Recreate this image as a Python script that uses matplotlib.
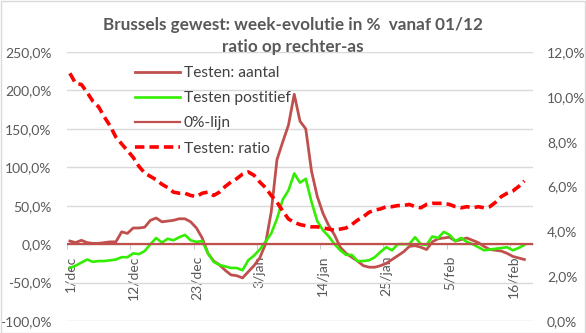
import matplotlib
matplotlib.use("Agg")
import matplotlib.pyplot as plt
from matplotlib.ticker import FuncFormatter, FixedLocator
from matplotlib.patches import Rectangle

plt.rcParams['font.family'] = ['Lato', 'DejaVu Sans']

# ---- data (day index 0 = 1 december) ----
tick_labels = ["1/dec", "12/dec", "23/dec", "3/jan", "14/jan", "25/jan", "5/feb", "16/feb"]
n_categories = 81

testen_aantal = [4, 2, 5, 2, 1, 1, 2, 3, 3, 16, 14, 21, 21, 22, 31, 34, 29, 30, 31, 33,
                 33, 29, 21, 8, -12, -22, -27, -34, -40, -41, -44, -36, -28, -18, 0, 42, 110, 133, 155, 195,
                 160, 150, 95, 62, 40, 24, 12, -4, -12, -17, -22, -28, -30, -30, -28, -25, -20, -15, -10, -3,
                 -2, -4, -7, 3, 7, 8, 9, 4, 6, 8, 5, 2, -3, -7, -8, -9, -12, -16, -18, -20]

testen_positief = [-31, -28, -24, -20, -23, -22, -22, -21, -20, -17, -17, -12, -13, -9, 0, 8, 2, 7, 5, 9,
                   12, 5, 3, 4, -12, -23, -27, -29, -31, -31, -34, -21, -15, -7, 3, 14, 33, 58, 70, 92,
                   80, 85, 55, 30, 18, 10, 0, -8, -14, -14, -22, -22, -21, -17, -10, -4, -8, 0, 0, 0,
                   9, 0, -1, 10, 8, 16, 12, 4, 8, 3, 0, -4, -8, -7, -6, -5, -4, -8, -5, -1]

nul_lijn = 0.0

testen_ratio = [11.05, 10.6, 10.55, 10.2, 9.8, 9.55, 9.1, 8.7, 8.2, 7.9, 7.6, 7.3, 6.9, 6.6, 6.45, 6.3, 6.1, 5.95, 5.75, 5.7,
                5.7, 5.6, 5.55, 5.7, 5.75, 5.6, 5.75, 6.0, 6.2, 6.35, 6.55, 6.65, 6.5, 6.2, 5.95, 5.6, 5.3, 4.9, 4.55, 4.4,
                4.3, 4.25, 4.2, 4.2, 4.15, 4.1, 4.05, 4.1, 4.15, 4.3, 4.5, 4.65, 4.85, 4.95, 5.0, 5.1, 5.1, 5.15, 5.15, 5.2,
                5.1, 5.05, 5.2, 5.25, 5.25, 5.25, 5.2, 5.1, 5.05, 5.1, 5.05, 5.1, 5.05, 5.1, 5.3, 5.55, 5.7, 5.8, 6.0, 6.25]

left_ticks = [-100, -50, 0, 50, 100, 150, 200, 250]
right_ticks = [0, 2, 4, 6, 8, 10, 12]

# ---- figure ----
W, H = 586, 333
fig = plt.figure(figsize=(W / 100, H / 100), dpi=100)
fig.patches.append(Rectangle((0.5 / W, 0.5 / H), 1 - 1.5 / W, 1 - 1.5 / H, transform=fig.transFigure,
                             fill=False, edgecolor='#D9D9D9', linewidth=1.0))

L, R, T, B = 67, 533, 52, 321
ax = fig.add_axes([L / W, (H - B) / H, (R - L) / W, (B - T) / H])
ax2 = ax.twinx()

days = list(range(len(testen_aantal)))

brown = '#C0504D'
green = '#33EE00'
red = '#FF0000'
txt = '#595959'

l1, = ax.plot(days, testen_aantal, color=brown, lw=2.0, label='Testen: aantal', zorder=3)
l2, = ax.plot(days, testen_positief, color=green, lw=1.9, label='Testen postitief', zorder=3)
l3 = ax.axhline(nul_lijn, color=brown, lw=1.6, label='0%-lijn', zorder=4)
l4, = ax2.plot(days, testen_ratio, color=red, lw=2.6, dashes=(2.6, 1.4), label='Testen: ratio', zorder=5)

ax.set_xlim(-0.5, n_categories - 0.5)
ax.set_ylim(left_ticks[0], left_ticks[-1])
ax2.set_ylim(right_ticks[0], right_ticks[-1])

pct = FuncFormatter(lambda v, p: (f"{v:.1f}%").replace('.', ','))
ax.yaxis.set_major_locator(FixedLocator(left_ticks))
ax2.yaxis.set_major_locator(FixedLocator(right_ticks))
ax.yaxis.set_major_formatter(pct)
ax2.yaxis.set_major_formatter(pct)
ax.tick_params(axis='y', length=0, pad=11, labelsize=10, labelcolor=txt)
ax2.tick_params(axis='y', length=0, pad=10, labelsize=10, labelcolor=txt)
ax.grid(axis='y', color='#D9D9D9', lw=1.0, zorder=0)

# x axis at 0
label_pos = [11 * k for k in range(len(tick_labels))]
ax.set_xticks(label_pos)
ax.set_xticklabels(tick_labels)
ax.set_xticks([p - 0.5 for p in label_pos], minor=True)
ax.tick_params(axis='x', which='major', length=0, pad=8, labelsize=10, labelcolor=txt, labelrotation=90)
ax.tick_params(axis='x', which='minor', length=3.5, color='#BFBFBF', direction='out')

for s in ['top', 'right', 'left']:
    ax.spines[s].set_visible(False)
    ax2.spines[s].set_visible(False)
ax2.spines['bottom'].set_visible(False)
ax.spines['bottom'].set_position(('data', 0))
ax.spines['bottom'].set_color('#BFBFBF')

ax.set_zorder(1)
ax2.set_zorder(2)
ax.patch.set_visible(False)
ax2.patch.set_visible(False)

# title
fig.text(0.5, 1 - 25 / H, "Brussels gewest: week-evolutie in %  vanaf 01/12", ha='center', va='center',
         fontsize=12.3, fontweight='bold', color=txt)
fig.text(0.5, 1 - 47 / H, "ratio op rechter-as", ha='center', va='center',
         fontsize=12.3, fontweight='bold', color=txt)

leg = fig.legend([l1, l2, l3, l4], ['Testen: aantal', 'Testen postitief', '0%-lijn', 'Testen: ratio'],
                 loc='upper left', bbox_to_anchor=(135 / W, 1 - 66 / H), frameon=False,
                 fontsize=11.2, handlelength=2.9, handletextpad=0.25, labelspacing=0.72, borderaxespad=0,
                 borderpad=0)
for t in leg.get_texts():
    t.set_color('#404040')

fig.savefig('out.png', dpi=100)
